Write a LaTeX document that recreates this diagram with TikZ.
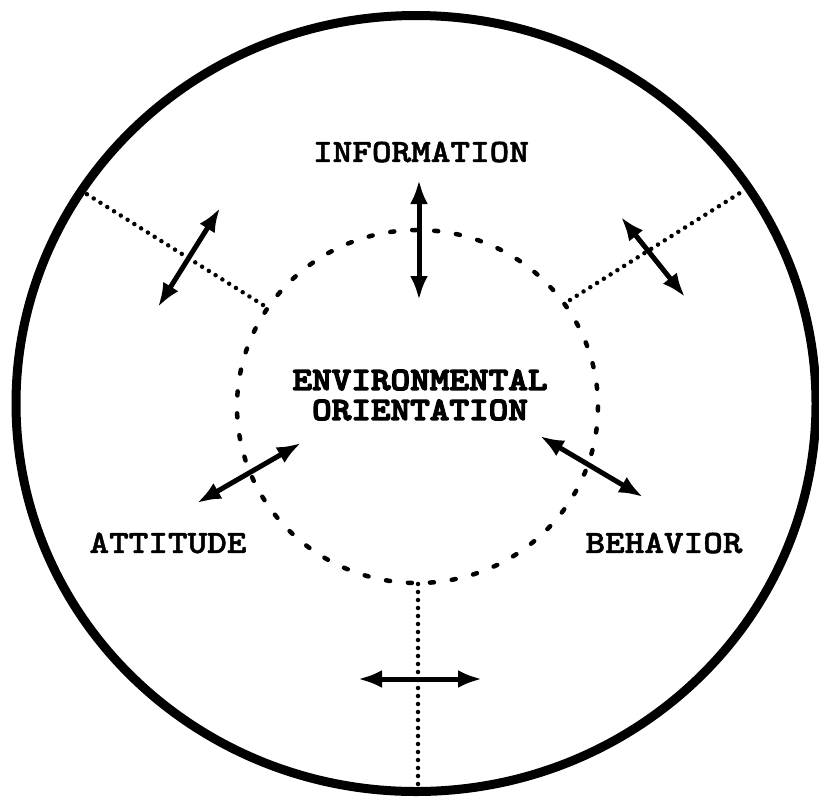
\documentclass[tikz,border=0pt]{standalone}
\usepackage{fontspec}
\newfontfamily\lmbold{lmmonolt10-bold.otf}[FakeStretch=1.15,FakeBold=1.5]
\newfontfamily\lmheavy{lmmonolt10-bold.otf}[FakeStretch=1.15,FakeBold=4]
\usetikzlibrary{arrows.meta}
\begin{document}
\begin{tikzpicture}[x=1pt,y=-1pt,
  lbl/.style={font=\lmbold\fontsize{32.5}{30}\selectfont, inner sep=0pt, align=center},
  heavylbl/.style={font=\lmheavy\fontsize{32.5}{30}\selectfont, inner sep=0pt, align=center},
  dbl/.style={line width=5pt, {Latex[length=24pt,width=18pt]}-{Latex[length=24pt,width=18pt]}},
  dotline/.style={line width=4.5pt, line cap=round, dash pattern=on 0pt off 8pt},
  dashring/.style={line width=4.5pt, line cap=round, dash pattern=on 4pt off 18pt},
  outerring/.style={line width=9pt}]
\useasboundingbox (0,0) rectangle (819,801);
% circles
\draw[outerring] (416,403.5) ellipse [x radius=400, y radius=388];
\draw[dashring] (417.5,406.5) ellipse [x radius=180.5, y radius=176.5];
% radial dotted lines
\coordinate (ulin) at (263,305);
\coordinate (ulout) at (85,193);
\coordinate (urin) at (570,300);
\coordinate (urout) at (743,191);
\coordinate (bin) at (418,584);
\coordinate (bout) at (418,795);
\draw[dotline] (ulin) -- (ulout);
\draw[dotline] (urin) -- (urout);
\draw[dotline] (bin) -- (bout);
% labels
\node[lbl] (info) at (421,152) {INFORMATION};
\node[lbl] (att) at (168,543) {ATTITUDE};
\node[lbl] (beh) at (664,543) {BEHAVIOR};
\node[heavylbl] (env) at (420,395) {ENVIRONMENTAL\\ORIENTATION};
% arrows
\coordinate (a1) at (158,307); \coordinate (a2) at (220,208);
\coordinate (b1) at (621,217); \coordinate (b2) at (685,297);
\coordinate (c1) at (419,180); \coordinate (c2) at (419,300);
\coordinate (d1) at (358,679); \coordinate (d2) at (482,679);
\coordinate (e1) at (197,503); \coordinate (e2) at (301,443);
\coordinate (f1) at (540,436); \coordinate (f2) at (643,497);
\draw[dbl] (a1) -- (a2);
\draw[dbl] (b1) -- (b2);
\draw[dbl] (c1) -- (c2);
\draw[dbl] (d1) -- (d2);
\draw[dbl] (e1) -- (e2);
\draw[dbl] (f1) -- (f2);
\end{tikzpicture}
\end{document}
